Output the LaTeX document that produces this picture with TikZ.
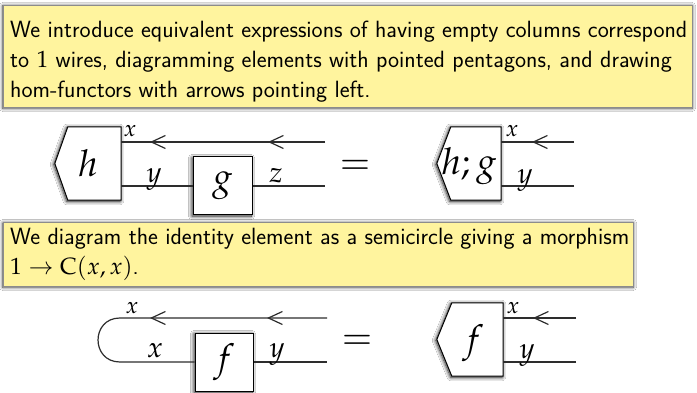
\documentclass[tikz,border=0pt]{standalone}
\usepackage{mathpazo}
\usetikzlibrary{arrows.meta,decorations.markings,shadows.blur}
\definecolor{boxyellow}{RGB}{255,244,158}
\definecolor{wirecol}{RGB}{45,45,45}
\tikzset{
  bb/.tip={Straight Barb[length=14pt,width=13pt,line width=1.2pt]},
  txt/.style={font=\sffamily\fontsize{23.5}{30}\selectfont, align=left, inner sep=0pt, anchor=north west, text=black},
  note/.style={fill=boxyellow, draw=black!45, line width=0.5pt,
    blur shadow={shadow xshift=0pt, shadow yshift=-1pt, shadow blur radius=3.5pt, shadow blur steps=20, shadow opacity=75}},
  wireln/.style={draw=wirecol, line width=1.2pt},
  arr/.style={postaction={decorate, decoration={markings, mark=at position #1 with {\arrow{bb}}}}},
  big/.style={font=\fontsize{37}{40}\selectfont},
  pentnode/.style={minimum width=66pt, minimum height=73pt, inner sep=0pt},
  pent/.style={fill=white, draw=black, line width=1pt,
    blur shadow={shadow xshift=-1pt, shadow yshift=-1pt, shadow blur radius=3.5pt, shadow blur steps=20, shadow opacity=90}},
  sq/.style={big, draw=black, fill=white, line width=1pt, minimum width=59pt, minimum height=58pt, inner sep=0pt,
    blur shadow={shadow xshift=-1pt, shadow yshift=-1pt, shadow blur radius=3.5pt, shadow blur steps=20, shadow opacity=90}},
  lbl/.style={font=\fontsize{29}{32}\selectfont, inner sep=0pt, anchor=base},
  lblsm/.style={font=\fontsize{23}{26}\selectfont, inner sep=0pt, anchor=base},
  eqs/.style={big, inner sep=0pt}
}
\begin{document}
\begin{tikzpicture}[x=1pt,y=-1pt]
\fill[white] (0,0) rectangle (697,393);
\useasboundingbox (0,0) rectangle (697,393);

% text boxes
\path[note] (3,5) rectangle (692,107);
\node[txt] (t1) at (10,20.7) {We introduce equivalent expressions of having empty columns correspond\\
to $1$ wires, diagramming elements with pointed pentagons, and drawing\\
hom-functors with arrows pointing left.};
\path[note] (3,222) rectangle (633,286);
\node[txt] (t2) at (10,227.7) {We diagram the identity element as a semicircle giving a morphism\\
$1\to\mathrm{C}(x,x)$.};

% diagram 1 left
\node[pentnode] (h) at (88,163.5) {};
\path[pent] ([xshift=13pt]h.north west) -- (h.north east) -- (h.south east) -- ([xshift=13pt]h.south west) -- (h.west) -- cycle;
\node[big] (hT) at (h.center) {$h$};
\node[sq] (g) at (222.5,186) {$g$};
\coordinate (x1r) at (325,142);
\coordinate (z1r) at (325,186);
\draw[wireln, arr=57pt, arr=175pt] (x1r) -- (x1r -| h.east);
\draw[wireln] (g.west) -- (g.west -| h.east);
\draw[wireln] (g.east) -- (z1r);
\node[lblsm] (lx1) at (130,137) {$x$};
\node[lbl] (ly1) at (154,183) {$y$};
\node[lbl] (lz1) at (276,183) {$z$};
\node[eqs] (e1) at (355,167) {$=$};

% diagram 1 right
\node[pentnode, minimum width=64pt] (hg) at (469,163.5) {};
\path[pent] ([xshift=14pt]hg.north west) -- (hg.north east) -- (hg.south east) -- ([xshift=14pt]hg.south west) -- (hg.west) -- cycle;
\node[big] (hgT) at ([yshift=-3pt]hg.center) {$h;g$};
\coordinate (x2r) at (574,142);
\coordinate (y2r) at (574,186);
\draw[wireln, arr=42pt] (x2r) -- (x2r -| hg.east);
\draw[wireln] (y2r) -- (y2r -| hg.east);
\node[lblsm] (lx2) at (512,137) {$x$};
\node[lbl] (ly2) at (525,184) {$y$};

% diagram 2 left
\node[sq, minimum width=58pt] (f) at (224,362) {$f$};
\coordinate (L1) at (120,318);
\coordinate (L2) at (120,362);
\coordinate (R1) at (327,318);
\coordinate (R2) at (327,362);
\draw[wireln, arr=60pt, arr=177pt] (R1) -- (L1) .. controls +(-29.3,0) and +(-29.3,0) .. (L2) -- (f.west);
\draw[wireln] (f.east) -- (R2);
\node[lblsm] (lx3) at (132,313) {$x$};
\node[lbl] (lx4) at (155,357) {$x$};
\node[lbl] (ly3) at (277,357) {$y$};
\node[eqs] (e2) at (357,342.5) {$=$};

% diagram 2 right
\node[pentnode] (f2) at (470,339.5) {};
\path[pent] ([xshift=15pt]f2.north west) -- (f2.north east) -- (f2.south east) -- ([xshift=15pt]f2.south west) -- (f2.west) -- cycle;
\node[big] (f2T) at ([xshift=3pt,yshift=-4pt]f2.center) {$f$};
\coordinate (x3r) at (576,318);
\coordinate (y3r) at (576,362);
\draw[wireln, arr=43pt] (x3r) -- (x3r -| f2.east);
\draw[wireln] (y3r) -- (y3r -| f2.east);
\node[lblsm] (lx5) at (513,313) {$x$};
\node[lbl] (ly4) at (527,358) {$y$};
\end{tikzpicture}
\end{document}
